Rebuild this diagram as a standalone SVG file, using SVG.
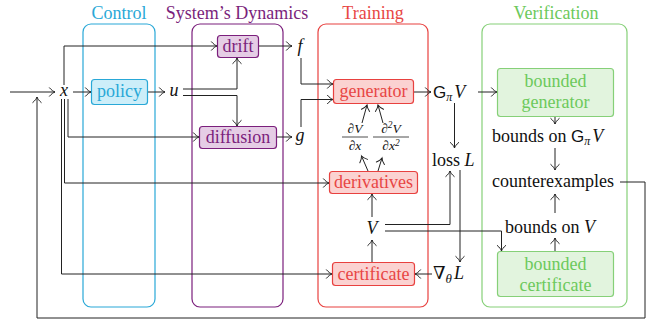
<svg xmlns="http://www.w3.org/2000/svg" width="662" height="326" viewBox="0 0 662 326">
  <defs>
    <marker id="arr" markerUnits="userSpaceOnUse" markerWidth="12" markerHeight="12" viewBox="-7 -6 8 12" refX="0" refY="0" orient="auto">
      <path d="M-5.5,-4.2 C-3.5,-1.8 -1.5,-0.5 0,0 C-1.5,0.5 -3.5,1.8 -5.5,4.2" fill="none" stroke="#222" stroke-width="1" stroke-linecap="round"/>
    </marker>
    <style>
      text { font-family: "Liberation Serif", "DejaVu Serif", serif; font-size: 18px; fill: #111; }
      .m { font-style: italic; }
      .sf { font-family: "Liberation Sans", "DejaVu Sans", sans-serif; font-style: normal; font-size: 17px; }
      .mid { text-anchor: middle; }
      .frac { font-size: 13.5px; }
      .lane { fill: none; stroke-width: 1.2; }
      .node { stroke-width: 1.2; }
      .cyan { stroke: #29a8d7; } .cyanf { fill: #cdeef9; } text.cyant { fill: #29a8d7; }
      .vio { stroke: #7b1f7c; } .viof { fill: #e5cde5; } text.viot { fill: #7b1f7c; }
      .red { stroke: #e8413f; } .redf { fill: #fbd2d1; } text.redt { fill: #e84644; }
      .grn { stroke: #86d078; } .grnf { fill: #e2f4de; } text.grnt { fill: #6cc95b; }
      .c { fill: none; stroke: #222; stroke-width: 1; }
      .a { marker-end: url(#arr); }
    </style>
  </defs>

  <!-- column frames with titles -->
  <g id="lane-control">
    <rect class="lane cyan" x="83" y="24" width="72" height="283" rx="8"/>
    <text class="mid cyant" x="119" y="19">Control</text>
  </g>
  <g id="lane-dynamics">
    <rect class="lane vio" x="192" y="24" width="91" height="283" rx="8"/>
    <text class="mid viot" x="237" y="19">System’s Dynamics</text>
  </g>
  <g id="lane-training">
    <rect class="lane red" x="318" y="24" width="110" height="283" rx="8"/>
    <text class="mid redt" x="373" y="19">Training</text>
  </g>
  <g id="lane-verification">
    <rect class="lane grn" x="482" y="24" width="145" height="283" rx="8"/>
    <text class="mid grnt" x="556" y="19">Verification</text>
  </g>

  <!-- connectors -->
  <g id="connectors">
    <!-- input and feedback loop -->
    <path class="c a" d="M10,92 H55"/>
    <path class="c a" d="M620,182 H645 V318 H37 V97"/>
    <!-- state x fan-out -->
    <path class="c a" d="M73,92 H91"/>
    <path class="c a" d="M64,85 V46 H217"/>
    <path class="c a" d="M68,99 V137 H199"/>
    <path class="c a" d="M64.5,99 V183 H329"/>
    <path class="c a" d="M61.5,99 V274 H332"/>
    <!-- control u -->
    <path class="c a" d="M147,92 H165"/>
    <path class="c a" d="M183,89 H237 V58"/>
    <path class="c a" d="M183,95.5 H237 V126"/>
    <!-- dynamics outputs -->
    <path class="c a" d="M258,46 H292"/>
    <path class="c a" d="M276,137 H292"/>
    <path class="c a" d="M301,58 V84 H333"/>
    <path class="c a" d="M301,127 V99.5 H333"/>
    <!-- derivatives to generator -->
    <path class="c a" d="M368,171 L361.5,156"/>
    <path class="c a" d="M378,171 L382,158"/>
    <path class="c a" d="M362,123 L367,105"/>
    <path class="c a" d="M383,123 L378,105"/>
    <!-- generator output -->
    <path class="c a" d="M413,92 H431"/>
    <path class="c a" d="M478,92 H497"/>
    <path class="c a" d="M454.5,103 V148"/>
    <!-- certificate V -->
    <path class="c a" d="M372,262 V240"/>
    <path class="c a" d="M372,217 V194"/>
    <path class="c a" d="M385,224.5 H450 V171"/>
    <path class="c a" d="M385,231 H501.5 V251"/>
    <path class="c a" d="M460,170 V262"/>
    <path class="c a" d="M432,274 H415"/>
    <!-- verification chain -->
    <path class="c a" d="M555,116 V124"/>
    <path class="c a" d="M555,148 V170"/>
    <path class="c a" d="M555,213 V194"/>
    <path class="c a" d="M555,251 V238"/>
  </g>

  <!-- math labels -->
  <g id="label-x"><text class="m mid" x="64" y="96">x</text></g>
  <g id="label-u"><text class="m mid" x="174" y="96">u</text></g>
  <g id="label-f"><text class="m mid" x="300" y="52">f</text></g>
  <g id="label-g"><text class="m mid" x="300" y="141">g</text></g>
  <g id="label-GV">
    <text x="433" y="98"><tspan class="sf">G</tspan><tspan class="m" font-size="12" dy="3">π</tspan><tspan class="m" dx="2" dy="-3">V</tspan></text>
  </g>
  <g id="label-loss"><text x="432" y="166">loss <tspan class="m">L</tspan></text></g>
  <g id="label-grad">
    <text x="433" y="279">∇<tspan class="m" font-size="13" dy="4">θ</tspan><tspan class="m" dx="2" dy="-4">L</tspan></text>
  </g>
  <g id="label-V"><text class="m mid" x="372" y="234">V</text></g>
  <g id="label-dVdx">
    <text class="frac m mid" x="355" y="133">∂V</text>
    <line x1="342" y1="137" x2="368" y2="137" stroke="#222" stroke-width="0.8"/>
    <text class="frac m mid" x="355" y="150">∂x</text>
  </g>
  <g id="label-d2Vdx2">
    <text class="frac m mid" x="391" y="133">∂<tspan font-size="9.5" dy="-5">2</tspan><tspan dy="5">V</tspan></text>
    <line x1="373" y1="137" x2="409" y2="137" stroke="#222" stroke-width="0.8"/>
    <text class="frac m mid" x="391" y="150">∂x<tspan font-size="9.5" dy="-4">2</tspan></text>
  </g>
  <g id="label-boundsG">
    <text x="492" y="142">bounds on <tspan class="sf">G</tspan><tspan class="m" font-size="12" dy="3">π</tspan><tspan class="m" dx="2" dy="-3">V</tspan></text>
  </g>
  <g id="label-counterexamples"><text x="492" y="187">counterexamples</text></g>
  <g id="label-boundsV"><text x="505" y="233">bounds on <tspan class="m">V</tspan></text></g>

  <!-- nodes -->
  <g id="policy">
    <rect class="node cyan cyanf" x="91.5" y="79.5" width="56" height="25" rx="3"/>
    <text class="mid cyant" x="119.5" y="97">policy</text>
  </g>
  <g id="drift">
    <rect class="node vio viof" x="217.5" y="35.5" width="41" height="22" rx="3"/>
    <text class="mid viot" x="238" y="52">drift</text>
  </g>
  <g id="diffusion">
    <rect class="node vio viof" x="199.5" y="126.5" width="77" height="22" rx="3"/>
    <text class="mid viot" x="238" y="143">diffusion</text>
  </g>
  <g id="generator">
    <rect class="node red redf" x="333.5" y="79.5" width="80" height="24" rx="3"/>
    <text class="mid redt" x="373.5" y="97">generator</text>
  </g>
  <g id="derivatives">
    <rect class="node red redf" x="329.5" y="171.5" width="88" height="22" rx="3"/>
    <text class="mid redt" x="373.5" y="188">derivatives</text>
  </g>
  <g id="certificate">
    <rect class="node red redf" x="332.5" y="262.5" width="82" height="23" rx="3"/>
    <text class="mid redt" x="373.5" y="280">certificate</text>
  </g>
  <g id="bounded-generator">
    <rect class="node grn grnf" x="497.5" y="68.5" width="116" height="48" rx="3"/>
    <text class="mid grnt" x="555.5" y="87">bounded</text>
    <text class="mid grnt" x="555.5" y="108">generator</text>
  </g>
  <g id="bounded-certificate">
    <rect class="node grn grnf" x="497.5" y="251.5" width="116" height="45" rx="3"/>
    <text class="mid grnt" x="555.5" y="270">bounded</text>
    <text class="mid grnt" x="555.5" y="291">certificate</text>
  </g>
</svg>
